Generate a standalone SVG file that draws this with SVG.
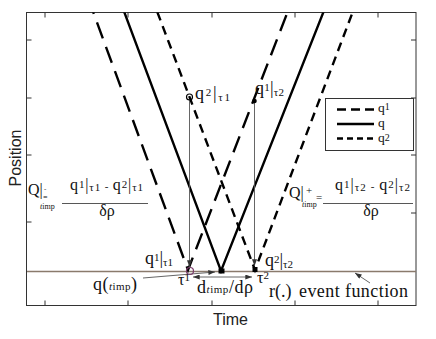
<svg xmlns="http://www.w3.org/2000/svg" width="436" height="339" viewBox="0 0 436 339">
<style>
.ax{fill:none;stroke:#333;stroke-width:1}
.tk{stroke:#333;stroke-width:1}
.q{fill:none;stroke:#000;stroke-width:2.4}
.q1{fill:none;stroke:#000;stroke-width:2.4;stroke-dasharray:17 9}
.q2{fill:none;stroke:#000;stroke-width:2.4;stroke-dasharray:9 6}
.thin{fill:none;stroke:#555;stroke-width:0.9}
.lbl{font-family:"Liberation Serif",serif;font-size:18px;fill:#111}
.leg{font-family:"Liberation Serif",serif;font-size:13.5px;fill:#111}
.frm{font-family:"Liberation Serif",serif;font-size:16px;fill:#111}
.sm{font-size:11px}
.xs{font-size:8px}
.it{font-style:italic}
.sans{font-family:"Liberation Sans",Arial,sans-serif;font-size:16px;fill:#222}
</style>
<defs>
<clipPath id="plot"><rect x="27" y="12.5" width="389" height="293"/></clipPath>
<marker id="ah" viewBox="0 0 8 6" refX="8" refY="3" markerWidth="7" markerHeight="5" orient="auto-start-reverse" markerUnits="userSpaceOnUse">
<path d="M0,0 L8,3 L0,6 Z" fill="#333"/>
</marker>
</defs>
<rect width="436" height="339" fill="#fff"/>
<g id="axes">
<rect class="ax" x="26.5" y="12.5" width="389.5" height="293"/>
<path class="tk" d="M45,12.5v5M128,12.5v5M212,12.5v5M295,12.5v5M378,12.5v5M45,305.5v-5M128,305.5v-5M212,305.5v-5M295,305.5v-5M378,305.5v-5M26.5,40h5M26.5,98h5M26.5,155h5M26.5,222h5M416,40h-5M416,98h-5M416,155h-5M416,213h-5"/>
<text class="sans" transform="translate(21,158) rotate(-90)" text-anchor="middle">Position</text>
<text class="sans" x="213" y="325">Time</text>
</g>
<g id="event-line">
<line x1="27" y1="271.5" x2="416" y2="271.5" stroke="#8a7a6c" stroke-width="1.6"/>
</g>
<g id="curves" clip-path="url(#plot)">
<polyline class="q1" points="88,-2 188,270 293,-2"/>
<polyline class="q" points="119,-2 221,271 329,-2"/>
<polyline class="q2" points="152,-2 255,270 358,-2"/>
</g>
<g id="connectors">
<line class="thin" x1="189.5" y1="100" x2="189.5" y2="267" marker-end="url(#ah)"/>
<line class="thin" x1="254.5" y1="102" x2="254.5" y2="266" marker-end="url(#ah)"/>
<line class="thin" x1="143" y1="278" x2="215" y2="272" marker-end="url(#ah)"/>
<line class="thin" x1="193" y1="277" x2="252" y2="277" marker-start="url(#ah)" marker-end="url(#ah)"/>
<line class="thin" x1="370" y1="283" x2="355" y2="273" marker-end="url(#ah)"/>
</g>
<g id="markers">
<circle cx="189.5" cy="97" r="3" fill="none" stroke="#000" stroke-width="1.2"/>
<circle cx="254.5" cy="101" r="2.3" fill="#000"/>
<circle cx="190" cy="271" r="3.5" fill="none" stroke="#7a3a6a" stroke-width="1.2"/>
<rect x="218.5" y="268.5" width="6" height="5" fill="#000"/>
<rect x="252.5" y="267" width="5" height="5" fill="#000"/>
</g>
<g id="legend">
<rect x="325.5" y="98.5" width="88" height="52" fill="#fff" stroke="#333" stroke-width="1"/>
<line x1="337" y1="109.5" x2="374" y2="109.5" stroke="#000" stroke-width="2.4" stroke-dasharray="9 5"/>
<line x1="337" y1="124" x2="374" y2="124" stroke="#000" stroke-width="2.4"/>
<line x1="337" y1="138.5" x2="374" y2="138.5" stroke="#000" stroke-width="2.4" stroke-dasharray="6 4"/>
<text class="leg" x="378" y="112">q<tspan style="font-size:10px" dy="-2">1</tspan></text>
<text class="leg" x="378" y="127">q</text>
<text class="leg" x="378" y="142">q<tspan style="font-size:10px" dy="-1">2</tspan></text>
</g>
<g id="labels">
<text class="lbl" x="195" y="99" textLength="35">q<tspan class="sm" dy="-3">2</tspan><tspan dy="3">|</tspan><tspan class="sm" dy="2">τ1</tspan></text>
<text class="lbl" x="255" y="94" textLength="29">q<tspan class="sm" dy="-3">1</tspan><tspan dy="3">|</tspan><tspan class="sm" dy="2">τ2</tspan></text>
<text class="lbl" x="145" y="264" textLength="28">q<tspan class="sm" dy="-3">1</tspan><tspan dy="3">|</tspan><tspan class="sm" dy="2">τ1</tspan></text>
<text class="lbl" x="265" y="266" textLength="28">q<tspan class="sm" dy="-3">2</tspan><tspan dy="3">|</tspan><tspan class="sm" dy="2">τ2</tspan></text>
<text class="lbl" x="93" y="290" textLength="44">q(<tspan class="sm it">t</tspan><tspan class="sm">imp</tspan>)</text>
<text class="lbl" x="178" y="285" style="font-size:16px">τ<tspan class="sm" dy="-4">1</tspan></text>
<text class="lbl" x="197" y="293" textLength="56">d<tspan class="sm it">t</tspan><tspan class="sm">imp</tspan>/dρ</text>
<text class="lbl" x="257" y="283" style="font-size:16px">τ<tspan class="sm" dy="-4">2</tspan></text>
<text class="lbl" x="269" y="297">r(.)</text>
<text class="lbl" x="299" y="297" textLength="109">event function</text>
</g>
<g id="formula-left">
<text class="frm" x="28" y="195">Q|<tspan style="font-size:7px" x="44" y="191">-</tspan><tspan class="xs" x="43" y="200">=</tspan><tspan class="xs it" x="40" y="209">t</tspan><tspan class="xs">imp</tspan></text>
<line x1="62" y1="203.5" x2="148" y2="203.5" stroke="#444" stroke-width="0.9"/>
<text class="frm" x="70" y="190" textLength="73">q<tspan class="sm" dy="-2">1</tspan><tspan dy="2">|</tspan><tspan class="sm" dy="1">τ1</tspan><tspan class="sm" dy="-1"> - </tspan>q<tspan class="sm" dy="-2">2</tspan><tspan dy="2">|</tspan><tspan class="sm" dy="1">τ1</tspan></text>
<text class="frm" x="107" y="216" text-anchor="middle">δρ</text>
</g>
<g id="formula-right">
<text class="frm" x="289" y="198">Q|<tspan class="sm" x="306" y="194">+</tspan><tspan class="sm" x="316" y="201">=</tspan><tspan class="xs it" x="302" y="207">t</tspan><tspan class="xs">imp</tspan></text>
<line x1="323" y1="203.5" x2="413" y2="203.5" stroke="#444" stroke-width="0.9"/>
<text class="frm" x="335" y="190" textLength="75">q<tspan class="sm" dy="-2">1</tspan><tspan dy="2">|</tspan><tspan class="sm" dy="1">τ2</tspan><tspan class="sm" dy="-1"> - </tspan>q<tspan class="sm" dy="-2">2</tspan><tspan dy="2">|</tspan><tspan class="sm" dy="1">τ2</tspan></text>
<text class="frm" x="371" y="216" text-anchor="middle">δρ</text>
</g>
</svg>
